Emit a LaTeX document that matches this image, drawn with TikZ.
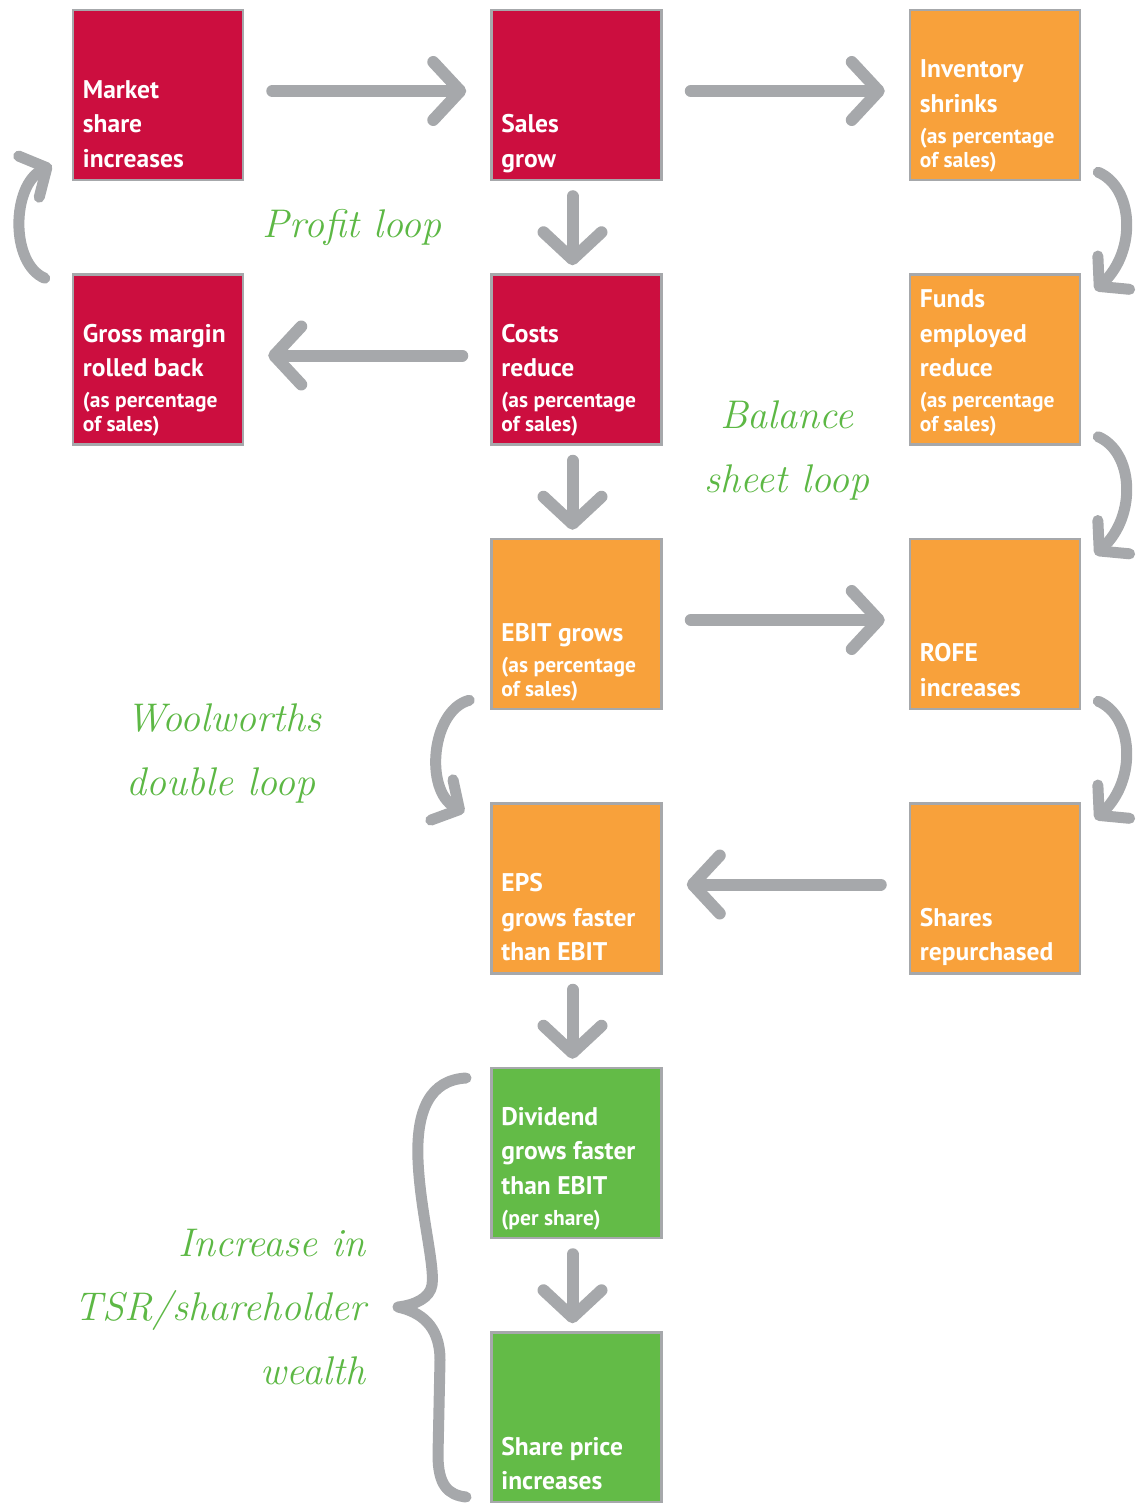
\documentclass[tikz,border=0pt]{standalone}
\usepackage{fontspec}
\usepackage{tikz}
\usetikzlibrary{positioning,arrows.meta,calc}
\newfontfamily\boxfont{PT Sans}
\definecolor{WWred}{HTML}{CC0E3F}
\definecolor{WWorange}{HTML}{F8A13B}
\definecolor{WWgreen}{HTML}{63BB47}
\definecolor{WWgray}{HTML}{A6A8AB}
\definecolor{WWhand}{HTML}{5DB845}
\newcommand{\subtxt}{\fontsize{21.5}{24}\selectfont}

\begin{document}
\begin{tikzpicture}[
  x=1pt,y=1pt,
  box/.style={draw=WWgray,line width=2.5pt,minimum width=170pt,minimum height=170pt,inner sep=0pt},
  redbox/.style={box,fill=WWred},
  orangebox/.style={box,fill=WWorange},
  greenbox/.style={box,fill=WWgreen},
  boxtext/.style={anchor=base west,align=left,text=white,inner sep=0pt,
    font=\boxfont\bfseries\fontsize{25.5}{34.5}\selectfont},
  flowarrow/.style={draw=WWgray,line width=12pt,line cap=round,
    -{Straight Barb[length=27pt,width=58pt,round]}},
  curvearrow/.style={draw=WWgray,line width=11pt,line cap=round,
    -{Straight Barb[length=20pt,width=46pt,round]}},
  handnote/.style={text=WWhand,inner sep=0pt,font=\itshape\fontsize{40}{64}\selectfont}
]
\useasboundingbox (0,0) rectangle (1142,-1503);

% --- boxes ---
\node[redbox] (mkt) at (158,-95) {};
\node[redbox,right=246pt of mkt] (sales) {};
\node[orangebox,right=246pt of sales] (inv) {};
\node[redbox,below=92pt of mkt] (gross) {};
\node[redbox,below=92pt of sales] (costs) {};
\node[orangebox,below=92pt of inv] (funds) {};
\node[orangebox,below=92pt of costs] (ebit) {};
\node[orangebox,below=92pt of funds] (rofe) {};
\node[orangebox,below=92pt of ebit] (eps) {};
\node[orangebox,below=92pt of rofe] (shares) {};
\node[greenbox,below=92pt of eps] (div) {};
\node[greenbox,below=92pt of div] (price) {};

% --- box texts (bottom left) ---
\node[boxtext] (mkt-t) at ($(mkt.south west)+(11,14)$) {Market\\share\\increases};
\node[boxtext] (sales-t) at ($(sales.south west)+(11,14)$) {Sales\\grow};
\node[boxtext] (inv-t) at ($(inv.south west)+(11,14)$) {Inventory\\shrinks\\[-3.5pt]\subtxt(as percentage\\[-10.5pt]\subtxt of sales)};
\node[boxtext] (gross-t) at ($(gross.south west)+(11,14)$) {Gross margin\\rolled back\\[-3.5pt]\subtxt(as percentage\\[-10.5pt]\subtxt of sales)};
\node[boxtext] (costs-t) at ($(costs.south west)+(11,14)$) {Costs\\reduce\\[-3.5pt]\subtxt(as percentage\\[-10.5pt]\subtxt of sales)};
\node[boxtext] (funds-t) at ($(funds.south west)+(11,14)$) {Funds\\employed\\reduce\\[-3.5pt]\subtxt(as percentage\\[-10.5pt]\subtxt of sales)};
\node[boxtext] (ebit-t) at ($(ebit.south west)+(11,14)$) {EBIT grows\\[-3.5pt]\subtxt(as percentage\\[-10.5pt]\subtxt of sales)};
\node[boxtext] (rofe-t) at ($(rofe.south west)+(11,14)$) {ROFE\\increases};
\node[boxtext] (eps-t) at ($(eps.south west)+(11,14)$) {EPS\\grows faster\\than EBIT};
\node[boxtext] (shares-t) at ($(shares.south west)+(11,14)$) {Shares\\repurchased};
\node[boxtext] (div-t) at ($(div.south west)+(11,14)$) {Dividend\\grows faster\\than EBIT\\[-3.5pt]\subtxt(per share)};
\node[boxtext] (price-t) at ($(price.south west)+(11,14)$) {Share price\\increases};

% --- straight arrows ---
\draw[flowarrow] ($(mkt.east)+(28,4)$) -- ($(sales.west)+(-24,4)$);
\draw[flowarrow] ($(sales.east)+(28,4)$) -- ($(inv.west)+(-24,4)$);
\draw[flowarrow] ($(costs.west)+(-28,4)$) -- ($(gross.east)+(24,4)$);
\draw[flowarrow] ($(ebit.east)+(28,4)$) -- ($(rofe.west)+(-24,4)$);
\draw[flowarrow] ($(shares.west)+(-28,4)$) -- ($(eps.east)+(24,4)$);
\draw[flowarrow] ($(sales.south)+(-4,-15)$) -- ($(costs.north)+(-4,8)$);
\draw[flowarrow] ($(costs.south)+(-4,-15)$) -- ($(ebit.north)+(-4,8)$);
\draw[flowarrow] ($(eps.south)+(-4,-15)$) -- ($(div.north)+(-4,8)$);
\draw[flowarrow] ($(div.south)+(-4,-15)$) -- ($(price.north)+(-4,8)$);

% --- curved arrows ---
\draw[curvearrow] ($(gross.north west)+(-27,-5)$) .. controls +(-35,15) and +(-40,-20) .. ($(mkt.south west)+(-20,16)$);
\draw[curvearrow] ($(inv.south east)+(17,9)$) .. controls +(35,-15) and +(42,40) .. ($(funds.north east)+(14,-17)$);
\draw[curvearrow] ($(funds.south east)+(17,9)$) .. controls +(35,-15) and +(42,40) .. ($(rofe.north east)+(14,-17)$);
\draw[curvearrow] ($(rofe.south east)+(17,9)$) .. controls +(35,-15) and +(42,40) .. ($(shares.north east)+(14,-17)$);
\draw[curvearrow] ($(ebit.south west)+(-21,10)$) .. controls +(-38,-10) and +(-40,22) .. ($(eps.north west)+(-26,-10)$);

% --- brace ---
\draw[WWgray,line width=11pt,line cap=round,line join=round]
  (466,-1078) .. controls (430,-1080) and (416,-1110) .. (418,-1160)
  .. controls (420,-1210) and (435,-1265) .. (432,-1285)
  .. controls (430,-1298) and (415,-1305) .. (398,-1307)
  .. controls (420,-1312) and (440,-1325) .. (440,-1360)
  -- (438,-1455) .. controls (438,-1485) and (448,-1495) .. (466,-1497);

% --- handwritten notes ---
\node[handnote] (profit) at (352,-228) {Profit loop};
\node[handnote,align=center] (balance) at (787,-450) {Balance\\sheet loop};
\node[handnote,align=left,anchor=west] (double) at (126,-753) {Woolworths\\double loop};
\node[handnote,align=right,anchor=east] (tsr) at (366,-1307) {Increase in\\TSR/shareholder\\wealth};
\end{tikzpicture}
\end{document}
